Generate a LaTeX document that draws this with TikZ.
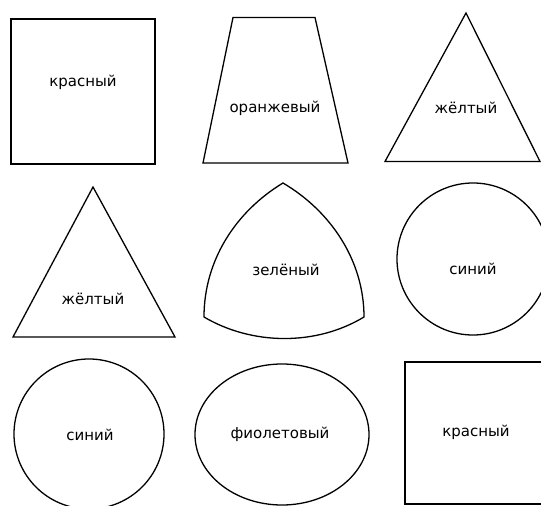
\documentclass[tikz,border=0pt]{standalone}
\usepackage{fontspec}
\setmainfont{DejaVu Sans}
\usepackage{tikz}
\usetikzlibrary{shapes.geometric}
\tikzset{
fig/.style={draw,line width=1.3pt,inner sep=0pt,outer sep=0pt},
sq/.style={fig,rectangle,minimum width=#1,minimum height=#1},
ci/.style={fig,circle,minimum size=#1},
ov/.style={fig,ellipse,minimum width=174pt,minimum height=141pt},
lbl/.style={font=\fontsize{15}{17}\selectfont,inner sep=1pt},
}
\begin{document}
\begin{tikzpicture}[x=1pt,y=-1pt]
	\useasboundingbox (0,0) rectangle (541,506);
	\clip (0,0) rectangle (541,506);

	\node[fig,minimum width=144pt,minimum height=145pt] (sq1) at (83,91.5) {};
	\draw[fig] (233,17.5) -- (315,17.5) -- (348,163) -- (203,163) -- cycle;
	\draw[fig] (466,13) -- (540,161.5) -- (385,161.5) -- cycle;

	\draw[fig] (93,187) -- (175,337) -- (13,337) -- cycle;
	\draw[fig] (283,183) .. controls (331.2,211.4) and (364,261) .. (364,317)
		.. controls (316.1,346) and (252.2,345.4) .. (204,317)
		.. controls (204,261) and (235.1,212) .. cycle;
	\node[ci=152pt] (ci1) at (473,259) {};

	\node[ci=150pt] (ci2) at (89,434) {};
	\node[ov] (ov1) at (282,434.5) {};
	\node[sq=142pt] (sq2) at (476,433) {};

	\node[lbl] (red1) at (83,82) {красный};
	\node[lbl] (orange) at (275,108) {оранжевый};
	\node[lbl] (yellow1) at (466,108) {жёлтый};
	\node[lbl] (yellow2) at (93,299) {жёлтый};
	\node[lbl] (green) at (286,270) {зелёный};
	\node[lbl] (blue1) at (473,269) {синий};
	\node[lbl] (blue2) at (90,435) {синий};
	\node[lbl] (violet) at (280,434) {фиолетовый};
	\node[lbl] (red2) at (476,432) {красный};
\end{tikzpicture}
\end{document}
